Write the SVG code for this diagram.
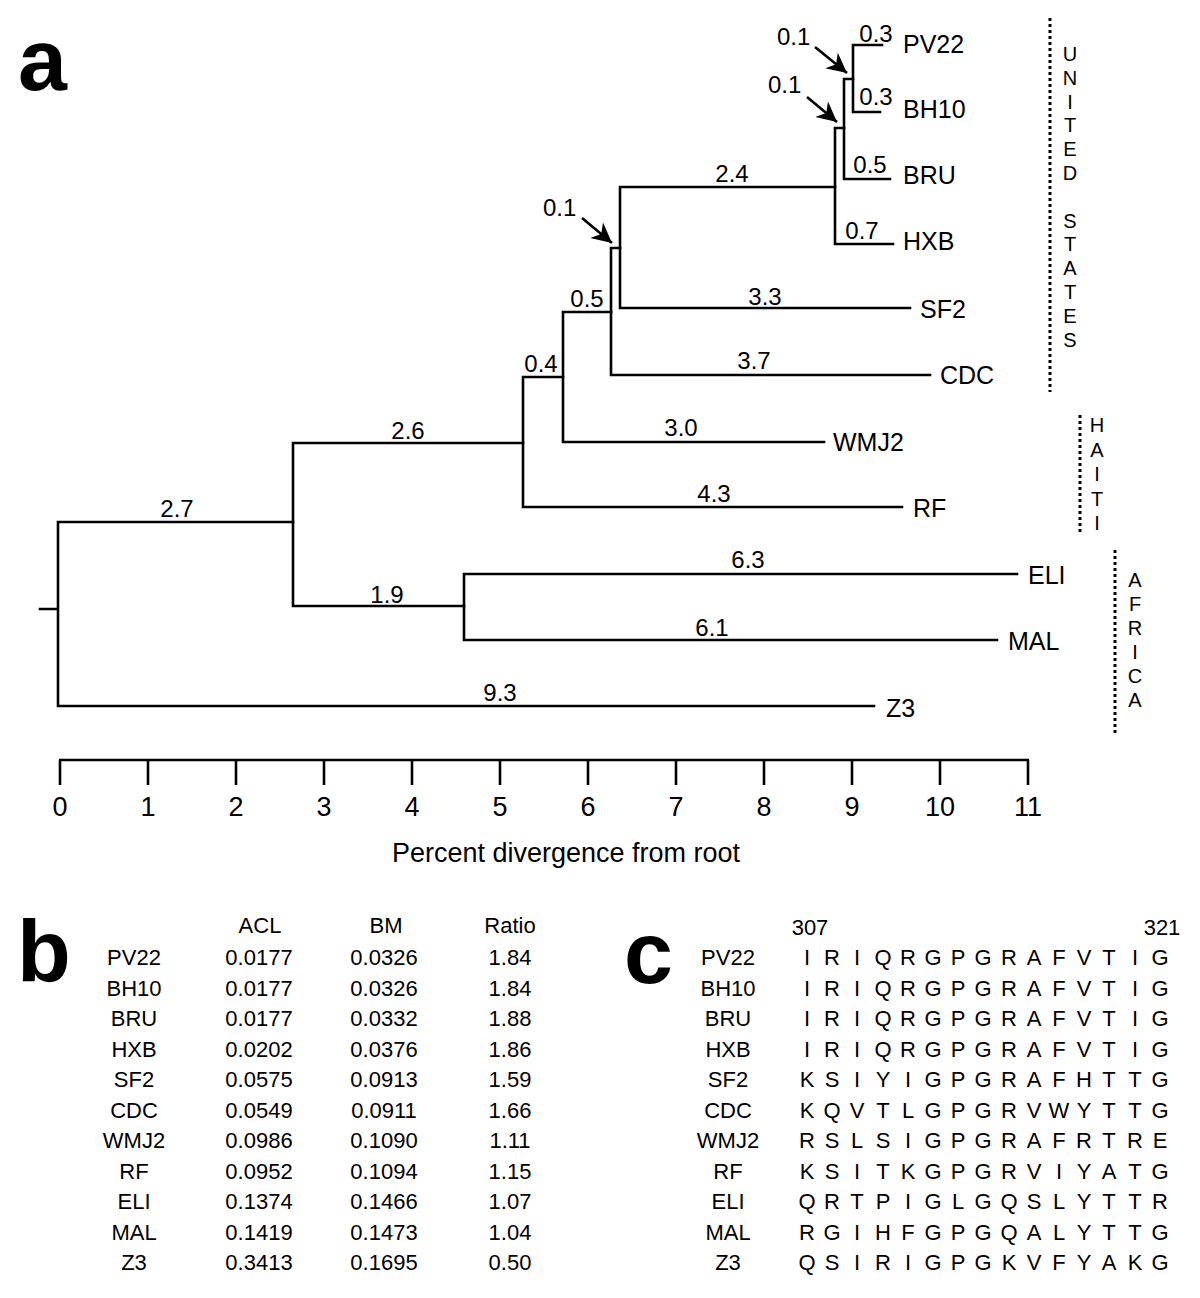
<svg xmlns="http://www.w3.org/2000/svg" width="1200" height="1298" viewBox="0 0 1200 1298">
<style>
text{font-family:"Liberation Sans",Arial,sans-serif;fill:#000}
.br{stroke:#000;stroke-width:2.6;fill:none;stroke-linecap:square}
.ax{stroke:#000;stroke-width:2.6;fill:none}
.dot{stroke:#000;stroke-width:3;stroke-dasharray:3 3;fill:none}
.leaf{font-size:25px}
.bl{font-size:24px;text-anchor:middle}
.al{font-size:24px}
.tick{font-size:27px;text-anchor:middle}
.reg{font-size:20px;text-anchor:middle}
.pl{font-size:88px;font-weight:bold}
.tb{font-size:22px;text-anchor:middle}
.sq{font-size:22px;text-anchor:middle}
</style>
<defs>
<marker id="ah" markerWidth="22" markerHeight="22" refX="20" refY="10" orient="auto" markerUnits="userSpaceOnUse">
<path d="M0,0 L20,10 L0,20 L6,10 Z" fill="#000"/>
</marker>
</defs>
<text class="pl" x="18" y="90">a</text>
<text class="pl" x="17" y="981">b</text>
<text class="pl" x="624" y="983">c</text>
<g id="connectors">
<path class="br" d="M40,609 H58 M58,522 V706 M58,522 H293 M58,706 H874"/>
<path class="br" d="M293,443 V606 M293,443 H523 M293,606 H464"/>
<path class="br" d="M464,574 V640 M464,574 H1017 M464,640 H997"/>
<path class="br" d="M523,377 V507 M523,507 H902 M523,377 H563"/>
<path class="br" d="M563,312 V442 M563,442 H824 M563,312 H611"/>
<path class="br" d="M611,248 V375 M611,375 H930 M611,248 H620"/>
<path class="br" d="M620,187 V308 M620,308 H910 M620,187 H835"/>
<path class="br" d="M835,128 V244 M835,244 H893 M835,128 H844"/>
<path class="br" d="M844,79 V179 M844,179 H890 M844,79 H853"/>
<path class="br" d="M853,45 V112 M853,45 H882 M853,112 H880"/>
<line x1="815" y1="47" x2="847" y2="73" stroke="#000" stroke-width="2.6" marker-end="url(#ah)"/>
<line x1="807" y1="97" x2="837" y2="122" stroke="#000" stroke-width="2.6" marker-end="url(#ah)"/>
<line x1="582" y1="218" x2="612" y2="243" stroke="#000" stroke-width="2.6" marker-end="url(#ah)"/>
</g>
<g id="branch-labels">
<text class="al" x="777" y="45">0.1</text>
<text class="al" x="768" y="93">0.1</text>
<text class="al" x="543" y="216">0.1</text>
<text class="bl" x="876" y="42">0.3</text>
<text class="bl" x="876" y="105">0.3</text>
<text class="bl" x="870" y="173">0.5</text>
<text class="bl" x="862" y="239">0.7</text>
<text class="bl" x="732" y="182">2.4</text>
<text class="bl" x="765" y="305">3.3</text>
<text class="bl" x="587" y="307">0.5</text>
<text class="bl" x="754" y="369">3.7</text>
<text class="bl" x="541" y="372">0.4</text>
<text class="bl" x="681" y="436">3.0</text>
<text class="bl" x="408" y="439">2.6</text>
<text class="bl" x="714" y="502">4.3</text>
<text class="bl" x="177" y="517">2.7</text>
<text class="bl" x="387" y="603">1.9</text>
<text class="bl" x="748" y="568">6.3</text>
<text class="bl" x="712" y="636">6.1</text>
<text class="bl" x="500" y="701">9.3</text>
</g>
<g id="leaf-PV22"><text class="leaf" x="903" y="53">PV22</text></g>
<g id="leaf-BH10"><text class="leaf" x="903" y="118">BH10</text></g>
<g id="leaf-BRU"><text class="leaf" x="903" y="184">BRU</text></g>
<g id="leaf-HXB"><text class="leaf" x="903" y="250">HXB</text></g>
<g id="leaf-SF2"><text class="leaf" x="920" y="318">SF2</text></g>
<g id="leaf-CDC"><text class="leaf" x="940" y="384">CDC</text></g>
<g id="leaf-WMJ2"><text class="leaf" x="833" y="451">WMJ2</text></g>
<g id="leaf-RF"><text class="leaf" x="913" y="517">RF</text></g>
<g id="leaf-ELI"><text class="leaf" x="1028" y="584">ELI</text></g>
<g id="leaf-MAL"><text class="leaf" x="1008" y="650">MAL</text></g>
<g id="leaf-Z3"><text class="leaf" x="886" y="717">Z3</text></g>
<g id="regions">
<line class="dot" x1="1050" y1="18" x2="1050" y2="392"/>
<text class="reg" x="1070" y="61">U</text>
<text class="reg" x="1070" y="84.8">N</text>
<text class="reg" x="1070" y="108.6">I</text>
<text class="reg" x="1070" y="132.4">T</text>
<text class="reg" x="1070" y="156.2">E</text>
<text class="reg" x="1070" y="180">D</text>
<text class="reg" x="1070" y="227.6">S</text>
<text class="reg" x="1070" y="251.4">T</text>
<text class="reg" x="1070" y="275.2">A</text>
<text class="reg" x="1070" y="299">T</text>
<text class="reg" x="1070" y="322.8">E</text>
<text class="reg" x="1070" y="346.6">S</text>
<line class="dot" x1="1080" y1="415" x2="1080" y2="535"/>
<text class="reg" x="1097" y="432">H</text>
<text class="reg" x="1097" y="456.5">A</text>
<text class="reg" x="1097" y="481">I</text>
<text class="reg" x="1097" y="505.5">T</text>
<text class="reg" x="1097" y="530">I</text>
<line class="dot" x1="1115" y1="550" x2="1115" y2="735"/>
<text class="reg" x="1135" y="587">A</text>
<text class="reg" x="1135" y="611">F</text>
<text class="reg" x="1135" y="635">R</text>
<text class="reg" x="1135" y="659">I</text>
<text class="reg" x="1135" y="683">C</text>
<text class="reg" x="1135" y="707">A</text>
</g>
<g id="axis">
<path class="ax" d="M59,760 H1029 M60,760 V785 M148,760 V785 M236,760 V785 M324,760 V785 M412,760 V785 M500,760 V785 M588,760 V785 M676,760 V785 M764,760 V785 M852,760 V785 M940,760 V785 M1028,760 V785"/>
<text class="tick" x="60" y="816">0</text>
<text class="tick" x="148" y="816">1</text>
<text class="tick" x="236" y="816">2</text>
<text class="tick" x="324" y="816">3</text>
<text class="tick" x="412" y="816">4</text>
<text class="tick" x="500" y="816">5</text>
<text class="tick" x="588" y="816">6</text>
<text class="tick" x="676" y="816">7</text>
<text class="tick" x="764" y="816">8</text>
<text class="tick" x="852" y="816">9</text>
<text class="tick" x="940" y="816">10</text>
<text class="tick" x="1028" y="816">11</text>
<text x="566" y="862" font-size="27" text-anchor="middle">Percent divergence from root</text>
</g>
<g id="table-b" class="tb">
<text class="tb" x="260" y="933">ACL</text>
<text class="tb" x="386" y="933">BM</text>
<text class="tb" x="510" y="933">Ratio</text>
<g>
<text class="tb" x="134" y="965">PV22</text><text class="tb" x="259" y="965">0.0177</text><text class="tb" x="384" y="965">0.0326</text><text class="tb" x="510" y="965">1.84</text>
<text class="tb" x="134" y="995.5">BH10</text><text class="tb" x="259" y="995.5">0.0177</text><text class="tb" x="384" y="995.5">0.0326</text><text class="tb" x="510" y="995.5">1.84</text>
<text class="tb" x="134" y="1026">BRU</text><text class="tb" x="259" y="1026">0.0177</text><text class="tb" x="384" y="1026">0.0332</text><text class="tb" x="510" y="1026">1.88</text>
<text class="tb" x="134" y="1056.5">HXB</text><text class="tb" x="259" y="1056.5">0.0202</text><text class="tb" x="384" y="1056.5">0.0376</text><text class="tb" x="510" y="1056.5">1.86</text>
<text class="tb" x="134" y="1087">SF2</text><text class="tb" x="259" y="1087">0.0575</text><text class="tb" x="384" y="1087">0.0913</text><text class="tb" x="510" y="1087">1.59</text>
<text class="tb" x="134" y="1117.5">CDC</text><text class="tb" x="259" y="1117.5">0.0549</text><text class="tb" x="384" y="1117.5">0.0911</text><text class="tb" x="510" y="1117.5">1.66</text>
<text class="tb" x="134" y="1148">WMJ2</text><text class="tb" x="259" y="1148">0.0986</text><text class="tb" x="384" y="1148">0.1090</text><text class="tb" x="510" y="1148">1.11</text>
<text class="tb" x="134" y="1178.5">RF</text><text class="tb" x="259" y="1178.5">0.0952</text><text class="tb" x="384" y="1178.5">0.1094</text><text class="tb" x="510" y="1178.5">1.15</text>
<text class="tb" x="134" y="1209">ELI</text><text class="tb" x="259" y="1209">0.1374</text><text class="tb" x="384" y="1209">0.1466</text><text class="tb" x="510" y="1209">1.07</text>
<text class="tb" x="134" y="1239.5">MAL</text><text class="tb" x="259" y="1239.5">0.1419</text><text class="tb" x="384" y="1239.5">0.1473</text><text class="tb" x="510" y="1239.5">1.04</text>
<text class="tb" x="134" y="1270">Z3</text><text class="tb" x="259" y="1270">0.3413</text><text class="tb" x="384" y="1270">0.1695</text><text class="tb" x="510" y="1270">0.50</text>
</g>
</g>
<g id="table-c">
<text class="sq" x="810" y="935">307</text>
<text class="sq" x="1162" y="935">321</text>
<text class="sq" x="728" y="965">PV22</text>
<text class="sq" x="728" y="995.5">BH10</text>
<text class="sq" x="728" y="1026">BRU</text>
<text class="sq" x="728" y="1056.5">HXB</text>
<text class="sq" x="728" y="1087">SF2</text>
<text class="sq" x="728" y="1117.5">CDC</text>
<text class="sq" x="728" y="1148">WMJ2</text>
<text class="sq" x="728" y="1178.5">RF</text>
<text class="sq" x="728" y="1209">ELI</text>
<text class="sq" x="728" y="1239.5">MAL</text>
<text class="sq" x="728" y="1270">Z3</text>
<g font-size="22" text-anchor="middle">
<text y="965"><tspan x="807">I</tspan><tspan x="832">R</tspan><tspan x="857">I</tspan><tspan x="883">Q</tspan><tspan x="908">R</tspan><tspan x="933">G</tspan><tspan x="958">P</tspan><tspan x="983">G</tspan><tspan x="1009">R</tspan><tspan x="1034">A</tspan><tspan x="1059">F</tspan><tspan x="1084">V</tspan><tspan x="1109">T</tspan><tspan x="1135">I</tspan><tspan x="1160">G</tspan></text>
<text y="995.5"><tspan x="807">I</tspan><tspan x="832">R</tspan><tspan x="857">I</tspan><tspan x="883">Q</tspan><tspan x="908">R</tspan><tspan x="933">G</tspan><tspan x="958">P</tspan><tspan x="983">G</tspan><tspan x="1009">R</tspan><tspan x="1034">A</tspan><tspan x="1059">F</tspan><tspan x="1084">V</tspan><tspan x="1109">T</tspan><tspan x="1135">I</tspan><tspan x="1160">G</tspan></text>
<text y="1026"><tspan x="807">I</tspan><tspan x="832">R</tspan><tspan x="857">I</tspan><tspan x="883">Q</tspan><tspan x="908">R</tspan><tspan x="933">G</tspan><tspan x="958">P</tspan><tspan x="983">G</tspan><tspan x="1009">R</tspan><tspan x="1034">A</tspan><tspan x="1059">F</tspan><tspan x="1084">V</tspan><tspan x="1109">T</tspan><tspan x="1135">I</tspan><tspan x="1160">G</tspan></text>
<text y="1056.5"><tspan x="807">I</tspan><tspan x="832">R</tspan><tspan x="857">I</tspan><tspan x="883">Q</tspan><tspan x="908">R</tspan><tspan x="933">G</tspan><tspan x="958">P</tspan><tspan x="983">G</tspan><tspan x="1009">R</tspan><tspan x="1034">A</tspan><tspan x="1059">F</tspan><tspan x="1084">V</tspan><tspan x="1109">T</tspan><tspan x="1135">I</tspan><tspan x="1160">G</tspan></text>
<text y="1087"><tspan x="807">K</tspan><tspan x="832">S</tspan><tspan x="857">I</tspan><tspan x="883">Y</tspan><tspan x="908">I</tspan><tspan x="933">G</tspan><tspan x="958">P</tspan><tspan x="983">G</tspan><tspan x="1009">R</tspan><tspan x="1034">A</tspan><tspan x="1059">F</tspan><tspan x="1084">H</tspan><tspan x="1109">T</tspan><tspan x="1135">T</tspan><tspan x="1160">G</tspan></text>
<text y="1117.5"><tspan x="807">K</tspan><tspan x="832">Q</tspan><tspan x="857">V</tspan><tspan x="883">T</tspan><tspan x="908">L</tspan><tspan x="933">G</tspan><tspan x="958">P</tspan><tspan x="983">G</tspan><tspan x="1009">R</tspan><tspan x="1034">V</tspan><tspan x="1059">W</tspan><tspan x="1084">Y</tspan><tspan x="1109">T</tspan><tspan x="1135">T</tspan><tspan x="1160">G</tspan></text>
<text y="1148"><tspan x="807">R</tspan><tspan x="832">S</tspan><tspan x="857">L</tspan><tspan x="883">S</tspan><tspan x="908">I</tspan><tspan x="933">G</tspan><tspan x="958">P</tspan><tspan x="983">G</tspan><tspan x="1009">R</tspan><tspan x="1034">A</tspan><tspan x="1059">F</tspan><tspan x="1084">R</tspan><tspan x="1109">T</tspan><tspan x="1135">R</tspan><tspan x="1160">E</tspan></text>
<text y="1178.5"><tspan x="807">K</tspan><tspan x="832">S</tspan><tspan x="857">I</tspan><tspan x="883">T</tspan><tspan x="908">K</tspan><tspan x="933">G</tspan><tspan x="958">P</tspan><tspan x="983">G</tspan><tspan x="1009">R</tspan><tspan x="1034">V</tspan><tspan x="1059">I</tspan><tspan x="1084">Y</tspan><tspan x="1109">A</tspan><tspan x="1135">T</tspan><tspan x="1160">G</tspan></text>
<text y="1209"><tspan x="807">Q</tspan><tspan x="832">R</tspan><tspan x="857">T</tspan><tspan x="883">P</tspan><tspan x="908">I</tspan><tspan x="933">G</tspan><tspan x="958">L</tspan><tspan x="983">G</tspan><tspan x="1009">Q</tspan><tspan x="1034">S</tspan><tspan x="1059">L</tspan><tspan x="1084">Y</tspan><tspan x="1109">T</tspan><tspan x="1135">T</tspan><tspan x="1160">R</tspan></text>
<text y="1239.5"><tspan x="807">R</tspan><tspan x="832">G</tspan><tspan x="857">I</tspan><tspan x="883">H</tspan><tspan x="908">F</tspan><tspan x="933">G</tspan><tspan x="958">P</tspan><tspan x="983">G</tspan><tspan x="1009">Q</tspan><tspan x="1034">A</tspan><tspan x="1059">L</tspan><tspan x="1084">Y</tspan><tspan x="1109">T</tspan><tspan x="1135">T</tspan><tspan x="1160">G</tspan></text>
<text y="1270"><tspan x="807">Q</tspan><tspan x="832">S</tspan><tspan x="857">I</tspan><tspan x="883">R</tspan><tspan x="908">I</tspan><tspan x="933">G</tspan><tspan x="958">P</tspan><tspan x="983">G</tspan><tspan x="1009">K</tspan><tspan x="1034">V</tspan><tspan x="1059">F</tspan><tspan x="1084">Y</tspan><tspan x="1109">A</tspan><tspan x="1135">K</tspan><tspan x="1160">G</tspan></text>
</g>
</g>
</svg>
